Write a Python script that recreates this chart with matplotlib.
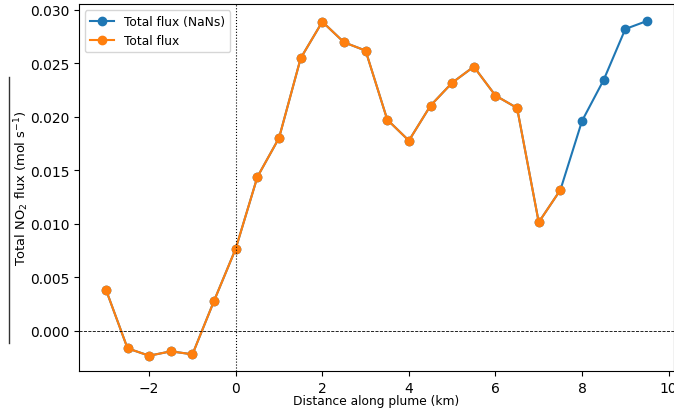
import numpy as np
import matplotlib
matplotlib.use("Agg")
import matplotlib.pyplot as plt
from matplotlib.lines import Line2D

# Distance along the plume (km)
distance = [-3.0, -2.5, -2.0, -1.5, -1.0, -0.5, 0.0, 0.5, 1.0, 1.5, 2.0, 2.5, 3.0,
            3.5, 4.0, 4.5, 5.0, 5.5, 6.0, 6.5, 7.0, 7.5, 8.0, 8.5, 9.0, 9.5]

# Total NO2 flux with gaps filled (mol s-1)
flux_filled = [0.00387, -0.00162, -0.00231, -0.0019, -0.00218, 0.00283, 0.0077,
               0.0144, 0.01804, 0.02549, 0.0289, 0.02698, 0.0262, 0.01975,
               0.01779, 0.02106, 0.0232, 0.0247, 0.0220, 0.02084, 0.01016,
               0.01318, 0.01963, 0.02346, 0.02822, 0.02897]

# Total NO2 flux with missing values (mol s-1)
flux = flux_filled[:22] + [np.nan] * 4

fig = plt.figure(figsize=(6.74, 4.14), dpi=100)
ax = fig.add_axes([0.117, 0.1014, 0.883, 0.8866])

ax.plot(distance, flux_filled, marker="o", color="#1f77b4", label="Total flux (NaNs)")
ax.plot(distance, flux, marker="o", color="#ff7f0e", label="Total flux")
ax.axhline(0, color="black", linestyle="--", linewidth=0.6)
ax.axvline(0, color="black", linestyle=":", linewidth=0.8)

ax.set_xlim(-3.625, 10.125)
ax.set_ylim(-0.00374, 0.03056)
ax.set_xticks([-2, 0, 2, 4, 6, 8, 10])
ax.set_xlabel("Distance along plume (km)", fontsize=8.8)
ax.set_ylabel("Total NO$_2$ flux (mol s$^{-1}$)", fontsize=9.4)
ax.xaxis.set_label_coords(0.5, -0.062)
ax.yaxis.set_label_coords(-0.081, 0.5)
ax.legend(loc="upper left", fontsize=8.8)

fig.add_artist(Line2D([9 / 674, 9 / 674], [1 - 78 / 414, 1 - 344 / 414],
                      transform=fig.transFigure, color="#333333", linewidth=1.0))

fig.savefig("out.png", dpi=100)
